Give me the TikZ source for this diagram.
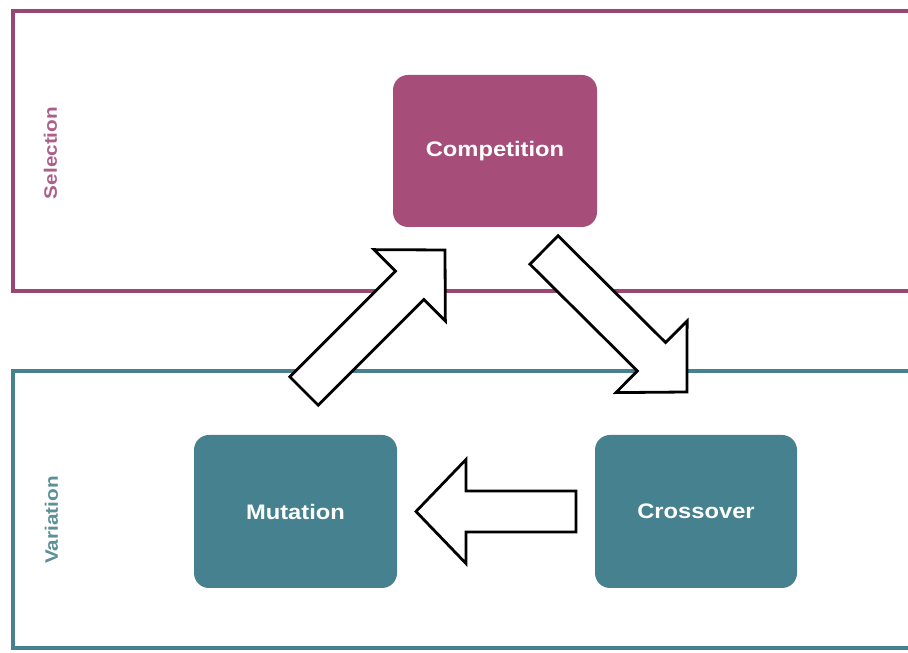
\documentclass[tikz,border=0pt]{standalone}
\usepackage{fontspec}
\setmainfont{Liberation Sans}
\usetikzlibrary{calc}

\definecolor{selcol}{HTML}{A64D79}
\definecolor{selline}{HTML}{9A4872}
\definecolor{varcol}{HTML}{45818E}
\definecolor{sellbl}{HTML}{AD5F8B}
\definecolor{varlbl}{HTML}{5B8F99}

\tikzset{
  lane/.style={line width=4pt},
  stagebox/.style={rounded corners=15pt, text=white, inner sep=0pt,
    font=\fontsize{21}{25}\selectfont\bfseries},
  lanelabel/.style={rotate=90, inner sep=0pt,
    font=\fontsize{18}{22}\selectfont\bfseries},
  blockarrow/.style={draw=black, fill=white, line width=2.8pt, line join=miter}
}

% Block arrow from #1 (tail) to #2 (tip): shaft half width #3, head half width #4, head length #5
\newcommand{\fatarrow}[5]{%
  \coordinate (#1-#2-base) at ($(#2)!#5!(#1)$);
  \draw[blockarrow]
    ($(#1)!#3!90:(#2)$) -- ($(#1-#2-base)!#3!-90:(#1)$) --
    ($(#1-#2-base)!#4!-90:(#1)$) -- (#2) --
    ($(#1-#2-base)!#4!90:(#1)$) -- ($(#1-#2-base)!#3!90:(#1)$) --
    ($(#1)!#3!-90:(#2)$) -- cycle;}

\begin{document}
\begin{tikzpicture}[x=1pt, y=1pt]
  \useasboundingbox (0,0) rectangle (908,653);
  \fill[white] (0,0) rectangle (908,653);
  \begin{scope}
    \clip (0,0) rectangle (908,653);
    % swim lanes
    \draw[lane, draw=selline] (13,362) rectangle (925,641.5);
    \draw[lane, draw=varcol] (13,5) rectangle (925,282);
  \end{scope}

  % lane titles
  \node[lanelabel, text=sellbl] (sellabel) at (50.5,500) {\scalebox{1.15}[1]{Selection}};
  \node[lanelabel, text=varlbl] (varlabel) at (51.5,133) {\scalebox{1.15}[1]{Variation}};

  % stages
  \node[stagebox, fill=selcol, minimum width=204pt, minimum height=152pt]
    (competition) at (495,502) {\scalebox{1.13}[1]{Competition}};
  \node[stagebox, fill=varcol, minimum width=203pt, minimum height=153pt]
    (mutation) at (295.5,141.5) {\scalebox{1.13}[1]{Mutation}};
  \node[stagebox, fill=varcol, minimum width=202pt, minimum height=153pt]
    (crossover) at (696,141.5) {\scalebox{1.13}[1]{Crossover}};

  % arrow end points
  \coordinate (mutout)  at (304,262);
  \coordinate (compin)  at (445,403);
  \coordinate (compout) at (544,403);
  \coordinate (crossin) at (687,261);
  \coordinate (crossout) at (576,141.5);
  \coordinate (mutin)   at (416,141.5);

  \fatarrow{mutout}{compin}{20pt}{50.5pt}{50pt}
  \fatarrow{compout}{crossin}{20pt}{50.5pt}{50pt}
  \fatarrow{crossout}{mutin}{20.5pt}{52pt}{50pt}
\end{tikzpicture}
\end{document}
